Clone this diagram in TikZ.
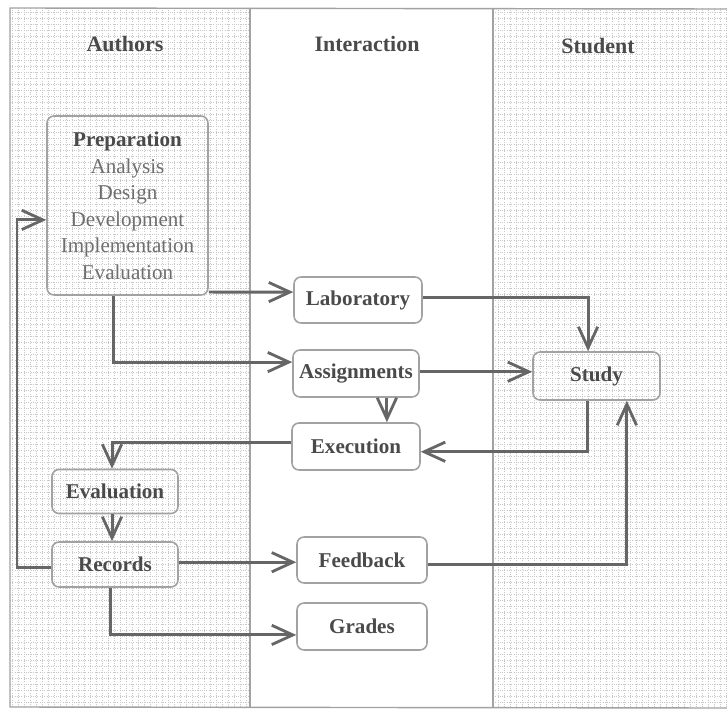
\documentclass[tikz,border=0pt]{standalone}
\usepackage{fontspec}
\setmainfont{Liberation Serif}
\usetikzlibrary{arrows.meta}
\definecolor{ink}{HTML}{4A4A4A}
\definecolor{wire}{HTML}{666666}
\definecolor{rim}{HTML}{A2A2A2}
\definecolor{paper}{HTML}{C8C8C8}
\begin{document}
\begin{tikzpicture}[x=0.02cm,y=-0.02cm,
  lanetitle/.style={font=\bfseries\fontsize{12.5}{14}\selectfont, text=ink},
  stepbox/.style={draw=rim, line width=0.9pt, rounded corners=4pt,
    font=\bfseries\fontsize{12}{15}\selectfont, text=ink, inner sep=0pt},
  flow/.style={draw=wire, line width=1.7pt,
    -{Straight Barb[length=12pt,width=11pt,line width=1.6pt]}},
  gridline/.style={paper, line width=0.3pt, densely dotted}]
\useasboundingbox (0,0) rectangle (727,713);
\fill[white] (0,0) rectangle (727,713);

% graph-paper background of the two outer lanes
\draw[gridline] (10,8) grid[step=0.12cm] (250,707);
\draw[gridline] (493,8) grid[step=0.12cm] (727,707);

% lane frame and dividers
\draw[rim, line width=0.8pt] (727,9) -- (10,8) -- (10,707) -- (727,708);
\draw[rim, line width=0.8pt] (250,8) -- (250,707);
\draw[rim, line width=0.8pt] (493,8) -- (493,707);

% lane titles
\node[lanetitle] (tA) at (125,44) {Authors};
\node[lanetitle] (tI) at (367,44) {Interaction};
\node[lanetitle] (tS) at (598,46) {Student};

% steps
\node[stepbox, minimum width=3.22cm, minimum height=3.58cm, align=center]
  (prep) at (127.5,205.5)
  {Preparation\\[0.5pt]
   {\mdseries\color{ink!80}Analysis}\\
   {\mdseries\color{ink!80}Design}\\
   {\mdseries\color{ink!80}Development}\\
   {\mdseries\color{ink!80}Implementation}\\
   {\mdseries\color{ink!80}Evaluation}};
\node[stepbox, minimum width=2.56cm, minimum height=0.92cm] (lab) at (358,300) {Laboratory};
\node[stepbox, minimum width=2.52cm, minimum height=0.94cm] (assign) at (356,373.5) {Assignments};
\node[stepbox, minimum width=2.56cm, minimum height=0.94cm] (exec) at (356,446.5) {Execution};
\node[stepbox, minimum width=2.54cm, minimum height=0.96cm] (study) at (596.5,376) {Study};
\node[stepbox, minimum width=2.52cm, minimum height=0.88cm] (eval) at (115,491.5) {Evaluation};
\node[stepbox, minimum width=2.52cm, minimum height=0.90cm] (rec) at (115,564.5) {Records};
\node[stepbox, minimum width=2.60cm, minimum height=0.92cm] (feed) at (362,560) {Feedback};
\node[stepbox, minimum width=2.60cm, minimum height=0.94cm] (grades) at (362,626.5) {Grades};

% rail on the far left for the feedback loop
\coordinate (rail) at (17,400);

% connectors
\draw[flow] (prep.east |- 0,292) -- ([yshift=4.5pt]lab.west);
\draw[flow] ([xshift=-8.2pt]prep.south) |- ([yshift=6.5pt]assign.west);
\draw[flow] ([yshift=1.7pt]lab.east) -| ([xshift=-4.8pt]study.north);
\draw[flow] ([yshift=1pt]assign.east) -- ([yshift=1pt]assign.east -| study.west);
\draw[flow] ([xshift=17.6pt]assign.south) -- ([xshift=17.6pt]exec.north);
\draw[flow] ([xshift=-5.4pt]study.south) |- ([yshift=-3pt]exec.east);
\draw[flow] ([yshift=2.5pt]exec.west) -| ([xshift=-1.7pt]eval.north);
\draw[flow] ([xshift=-1.7pt]eval.south) -- ([xshift=-1.7pt]rec.north);
\draw[flow] ([yshift=-1.5pt]rec.west) -- ([yshift=-1.5pt]rec.west -| rail)
  |- ([yshift=-8.2pt]prep.west);
\draw[flow] ([yshift=1.3pt]rec.east) -- ([yshift=1.3pt]rec.east -| feed.west);
\draw[flow] ([xshift=-2.8pt]rec.south) |- ([yshift=-4.8pt]grades.west);
\draw[flow] ([yshift=-2.8pt]feed.east) -| ([xshift=17.3pt]study.south);
\end{tikzpicture}
\end{document}
